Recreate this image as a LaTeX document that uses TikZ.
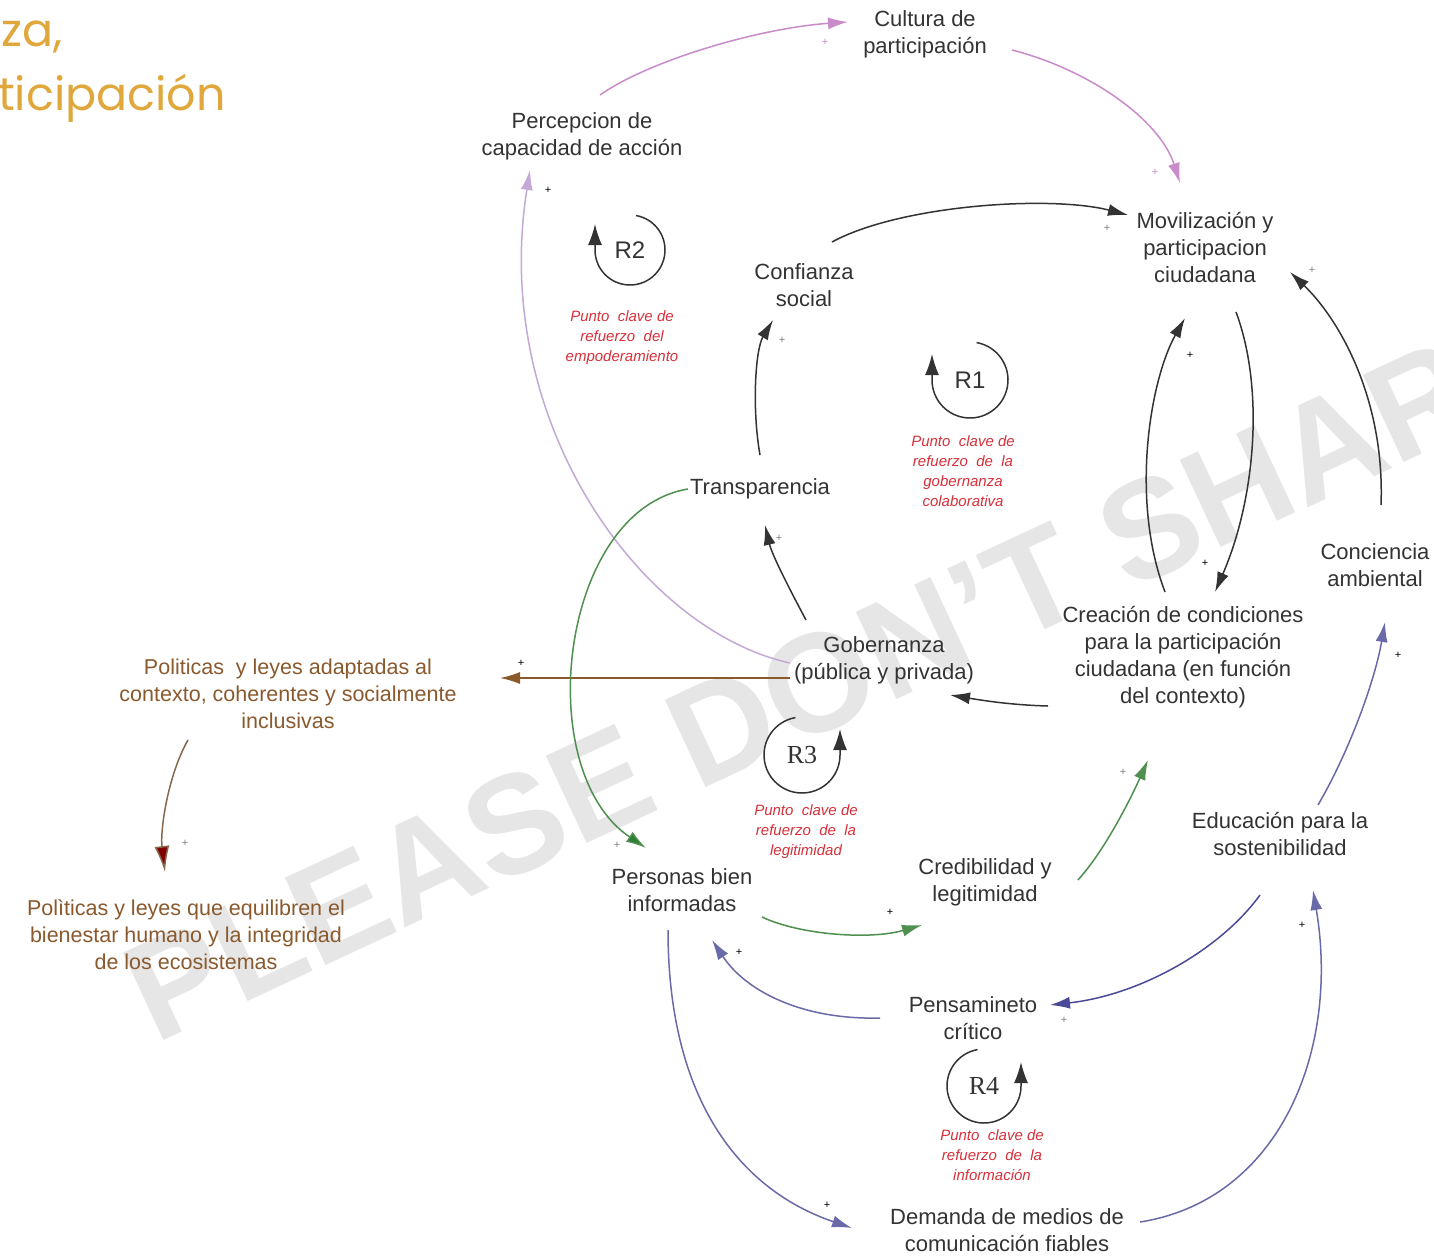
\documentclass[tikz,border=0pt]{standalone}
\usepackage{fontspec}
\setmainfont{Liberation Sans}
\newfontfamily\serifR{Liberation Serif}
\newfontfamily\popfont{Poppins}
\usetikzlibrary{arrows.meta}
\definecolor{txt}{HTML}{333333}
\definecolor{pinkc}{HTML}{C98BC9}
\definecolor{lavc}{HTML}{C4A8D6}
\definecolor{bluec}{HTML}{6A6AA8}
\definecolor{darkbluec}{HTML}{4A4A98}
\definecolor{greenc}{HTML}{4F8F4F}
\definecolor{greenhead}{HTML}{2E7D32}
\definecolor{brownc}{HTML}{8B5A2B}
\definecolor{poltxt}{HTML}{8A5A2E}
\definecolor{redtxt}{HTML}{D8303A}
\definecolor{gold}{HTML}{E0A83C}
\definecolor{wmc}{HTML}{E6E6E6}
\tikzset{
  lbl/.style={align=center, font=\fontsize{22}{27}\selectfont, text=txt, inner sep=0pt},
  pollbl/.style={lbl, font=\fontsize{21.5}{27}\selectfont, text=poltxt},
  note/.style={align=center, font=\fontsize{15}{20}\selectfont\itshape, text=redtxt, inner sep=0pt},
  plus/.style={font=\fontsize{11}{11}\selectfont, inner sep=0pt},
  link/.style={line width=1.5pt, -{Latex[length=20pt,width=12pt]}},
  loopc/.style={line width=1.5pt, draw=txt, -{Latex[length=21pt,width=14pt]}},
}
\begin{document}
\begin{tikzpicture}[x=1pt,y=-1pt]
\useasboundingbox (0,0) rectangle (1434,1255);
\fill[white] (0,0) rectangle (1434,1255);

% watermark
\node[rotate=25, anchor=base west, font=\fontsize{140}{140}\selectfont\bfseries, text=wmc, inner sep=0pt] (wm) at (155,1045) {PLEASE DON’T SHARE};

% title fragment
\node[anchor=base west, font=\fontsize{46}{46}\selectfont\popfont, text=gold, inner sep=0pt] (t1) at (1,47) {za,};
\node[anchor=base west, font=\fontsize{46}{46}\selectfont\popfont, text=gold, inner sep=0pt] (t2) at (-2,110) {ticipación};

% nodes
\node[lbl] (cult) at (925,34) {Cultura de\\participación};
\node[lbl] (perc) at (582,136) {Percepcion de\\capacidad de acción};
\node[lbl] (movi) at (1205,248) {Movilización y\\participacion\\ciudadana};
\node[lbl] (conf) at (804,285) {Confianza\\social};
\node[lbl] (trans) at (760,489) {Transparencia};
\node[lbl] (conc) at (1375,565) {Conciencia\\ambiental};
\node[lbl] (crea) at (1183,657) {Creación de condiciones\\para la participación\\ciudadana (en función\\del contexto)};
\node[lbl] (gob) at (884,660) {Gobernanza\\(pública y privada)};
\node[pollbl] (pol1) at (288,694) {Politicas\ \ y leyes adaptadas al\\contexto, coherentes y socialmente\\inclusivas};
\node[pollbl] (pol2) at (186,935) {Polìticas y leyes que equilibren el\\bienestar humano y la integridad\\de los ecosistemas};
\node[lbl] (pers) at (682,890) {Personas bien\\informadas};
\node[lbl] (cred) at (985,882) {Credibilidad y\\legitimidad};
\node[lbl] (edu) at (1280,834) {Educación para la\\sostenibilidad};
\node[lbl] (pens) at (973,1018) {Pensamineto\\crítico};
\node[lbl] (dem) at (1007,1230) {Demanda de medios de\\comunicación fiables};

% loops
\node[font=\fontsize{24}{24}\selectfont, text=txt, inner sep=0pt] (r2) at (630,250) {R2};
\draw[loopc] ([shift={(-80:35)}]r2.center) arc[start angle=-80, end angle=180, radius=35] -- ++(0,-26);
\node[note] (n2) at (622,338) {Punto\ \ clave\ de\\refuerzo\ \ del\\empoderamiento};

\node[font=\fontsize{24}{24}\selectfont, text=txt, inner sep=0pt] (r1) at (970,380) {R1};
\draw[loopc] ([shift={(-80:38)}]r1.center) arc[start angle=-80, end angle=180, radius=38] -- ++(0,-26);
\node[note] (n1) at (963,471) {Punto\ \ clave\ de\\refuerzo\ \ de\ \ la\\gobernanza\\colaborativa};

\node[font=\fontsize{26}{26}\selectfont\serifR, text=txt, inner sep=0pt] (r3) at (802,755) {R3};
\draw[loopc] ([shift={(-100:38)}]r3.center) arc[start angle=-100, end angle=-360, radius=38] -- ++(0,-26);
\node[note] (n3) at (806,832) {Punto\ \ clave\ de\\refuerzo\ \ de\ \ la\\legitimidad};

\node[font=\fontsize{26}{26}\selectfont\serifR, text=txt, inner sep=0pt] (r4) at (984,1086) {R4};
\draw[loopc] ([shift={(-100:37)}]r4.center) arc[start angle=-100, end angle=-360, radius=37] -- ++(0,-24);
\node[note] (n4) at (992,1155) {Punto\ \ clave\ de\\refuerzo\ \ de\ \ la\\información};

% connectors
\draw[link, draw=pinkc] ([shift={(18,-41)}]perc.center) .. controls (650,60) and (760,28) .. ([shift={(-77,-12)}]cult.center);
\draw[link, draw=pinkc] ([shift={(87,16)}]cult.center) .. controls (1090,70) and (1160,120) .. ([shift={(-25,-65)}]movi.center);
\draw[link, draw=lavc] ([shift={(-94,3)}]gob.center) .. controls (640,630) and (490,420) .. ([shift={(-52,34)}]perc.center);
\draw[link, draw=txt] ([shift={(28,-43)}]conf.center) .. controls (900,205) and (1050,195) .. ([shift={(-77,-33)}]movi.center);
\draw[link, draw=txt] ([shift={(0,-34)}]trans.center) .. controls (752,410) and (755,350) .. ([shift={(-31,35)}]conf.center);
\draw[link, draw=txt] ([shift={(-78,-40)}]gob.center) .. controls (790,590) and (772,555) .. ([shift={(5,36)}]trans.center);
\draw[link, draw=txt] ([shift={(-135,49)}]crea.center) .. controls (1010,705) and (980,700) .. ([shift={(66,35)}]gob.center);
\draw[link, draw=txt] ([shift={(-18,-65)}]crea.center) .. controls (1130,500) and (1150,380) .. ([shift={(-20,70)}]movi.center);
\draw[link, draw=txt] ([shift={(31,64)}]movi.center) .. controls (1265,390) and (1255,500) .. ([shift={(32,-65)}]crea.center);
\draw[link, draw=txt] ([shift={(6,-60)}]conc.center) .. controls (1385,400) and (1340,320) .. ([shift={(85,24)}]movi.center);
\draw[link, draw=bluec] ([shift={(38,-29)}]edu.center) .. controls (1350,750) and (1375,680) .. ([shift={(10,57)}]conc.center);
\draw[link, draw=brownc] ([shift={(-94,18)}]gob.center) -- ([shift={(212,-16)}]pol1.center);
\draw[line width=1.5pt, draw=brownc!60!gray, -{Latex[length=26pt,width=15pt,fill=red!50!black]}] ([shift={(-100,46)}]pol1.center) .. controls (168,775) and (160,830) .. ([shift={(-21,-63)}]pol2.center);
\draw[link, draw=greenc, -{Latex[length=20pt,width=12pt,fill=greenhead]}] ([shift={(-72,0)}]trans.center) .. controls (560,510) and (530,770) .. ([shift={(-36,-42)}]pers.center);
\draw[link, draw=greenc] ([shift={(80,27)}]pers.center) .. controls (800,935) and (870,940) .. ([shift={(-63,43)}]cred.center);
\draw[link, draw=greenc] ([shift={(93,-2)}]cred.center) .. controls (1105,850) and (1130,800) .. ([shift={(-35,103)}]crea.center);
\draw[link, draw=bluec] ([shift={(-93,0)}]pens.center) .. controls (800,1020) and (745,990) .. ([shift={(30,50)}]pers.center);
\draw[link, draw=darkbluec] ([shift={(-20,61)}]edu.center) .. controls (1220,950) and (1140,995) .. ([shift={(77,-13)}]pens.center);
\draw[link, draw=bluec] ([shift={(-14,40)}]pers.center) .. controls (668,1100) and (740,1190) .. ([shift={(-155,-2)}]dem.center);
\draw[link, draw=bluec] ([shift={(133,-8)}]dem.center) .. controls (1280,1200) and (1340,1050) .. ([shift={(33,56)}]edu.center);

% plus signs
\node[plus, text=pinkc] (p1) at (825,42) {+};
\node[plus, text=pinkc] (p2) at (1155,172) {+};
\node[plus] (p3) at (548,190) {+};
\node[plus, text=gray] (p4) at (1107,228) {+};
\node[plus, text=gray] (p5) at (782,340) {+};
\node[plus, text=gray] (p6) at (779,538) {+};
\node[plus] (p8) at (1190,355) {+};
\node[plus] (p9) at (1205,563) {+};
\node[plus, text=gray] (p10) at (1312,270) {+};
\node[plus] (p11) at (1398,655) {+};
\node[plus] (p12) at (521,663) {+};
\node[plus, text=gray] (p13) at (185,843) {+};
\node[plus, text=gray] (p14) at (617,845) {+};
\node[plus] (p15) at (890,912) {+};
\node[plus, text=gray] (p16) at (1123,772) {+};
\node[plus] (p17) at (739,952) {+};
\node[plus, text=gray] (p18) at (1064,1020) {+};
\node[plus] (p19) at (827,1205) {+};
\node[plus] (p20) at (1302,925) {+};
\end{tikzpicture}
\end{document}
